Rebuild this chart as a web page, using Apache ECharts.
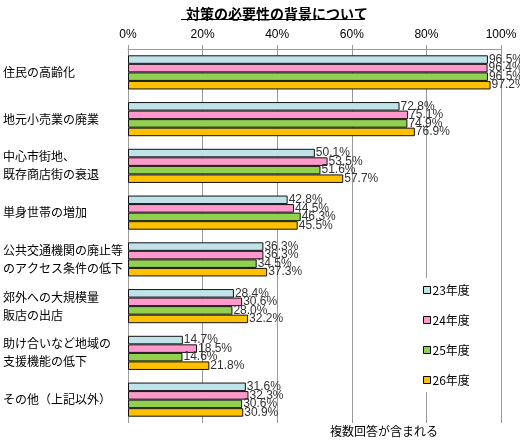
<!DOCTYPE html>
<html><head><meta charset="utf-8">
<script src="https://cdn.jsdelivr.net/npm/echarts@6/dist/echarts.min.js"></script>
<style>html,body{margin:0;padding:0;background:#fff}#c{width:520px;height:440px}</style>
</head><body><div id="c"></div>
<script>
const categories = ['住民の高齢化','地元小売業の廃業','中心市街地、\n既存商店街の衰退','単身世帯の増加','公共交通機関の廃止等\nのアクセス条件の低下','郊外への大規模量\n販店の出店','助け合いなど地域の\n支援機能の低下','その他（上記以外）'];
const seriesNames = ['23年度','24年度','25年度','26年度'];
const v23 = [96.5, 72.8, 50.1, 42.8, 36.3, 28.4, 14.7, 31.6];
const v24 = [96.4, 75.1, 53.5, 44.5, 36.3, 30.6, 18.5, 32.3];
const v25 = [96.5, 74.9, 51.6, 46.3, 34.5, 28.0, 14.6, 30.6];
const v26 = [97.2, 76.9, 57.7, 45.5, 37.3, 32.2, 21.8, 30.9];
const xTicks = [0, 20, 40, 60, 80, 100];
const colors = ['#bfe3e8','#ff99cc','#92d050','#ffc000'];
const allVals = [v23, v24, v25, v26];
const font = '"Liberation Sans","Noto Sans CJK JP",sans-serif';
const jfont = '"Noto Sans CJK JP","Liberation Sans",sans-serif';

const chart = echarts.init(document.getElementById('c'), null, {renderer:'canvas'});
chart.setOption({
  animation: false,
  backgroundColor: '#fff',
  title: {
    text: '対策の必要性の背景について',
    left: 272, top: 2, textAlign: 'center',
    textStyle: {fontSize: 14, fontWeight: 'bold', color: '#000', fontFamily: jfont}
  },
  graphic: [
    {type:'line', shape:{x1:181, y1:19.5, x2:363, y2:19.5}, style:{stroke:'#000', lineWidth:1}},
    {type:'text', left: 330, top: 425, style:{text:'複数回答が含まれる', fontSize: 12, fill:'#000', fontFamily: jfont}}
  ],
  legend: {
    orient: 'vertical',
    left: 421, top: 278,
    itemWidth: 7, itemHeight: 7, itemGap: 18,
    backgroundColor: '#fff',
    padding: [6, 6, 6, 2],
    textStyle: {fontSize: 12, color: '#000', fontFamily: jfont, padding:[0,0,0,-3]},
    data: seriesNames.map((n,i)=>({name:n, icon:'rect', itemStyle:{color:colors[i], borderColor:'#000', borderWidth:1}}))
  },
  grid: {left: 128, right: 19, top: 49, bottom: 17, containLabel: false},
  xAxis: {
    type: 'value', position: 'top', min: 0, max: 100, interval: 20,
    axisLine: {show: true, lineStyle: {color: '#999'}},
    axisTick: {show: true, length: 4, lineStyle: {color: '#999'}},
    axisLabel: {formatter: '{value}%', fontSize: 12, color: '#000', fontFamily: font, margin: 8},
    splitLine: {show: true, lineStyle: {color: '#999', width: 1}}
  },
  yAxis: {
    type: 'category', inverse: true, data: categories,
    axisLine: {show: false}, axisTick: {show: false},
    axisLabel: {align: 'left', margin: 125, fontSize: 12, color: '#000', fontFamily: jfont, lineHeight: 18, verticalAlign: 'middle', padding:[0,0,6,0]}
  },
  series: seriesNames.map((n,i)=>({
    name: n, type: 'bar', data: allVals[i],
    barGap: '0%', barCategoryGap: '27%',
    itemStyle: {color: colors[i], borderColor: '#111', borderWidth: 1},
    label: {show: true, position: 'right', distance: 1, formatter: p => p.value.toFixed(1) + '%',
      fontSize: 12, color: '#333', fontFamily: font}
  }))
});
</script></body></html>
